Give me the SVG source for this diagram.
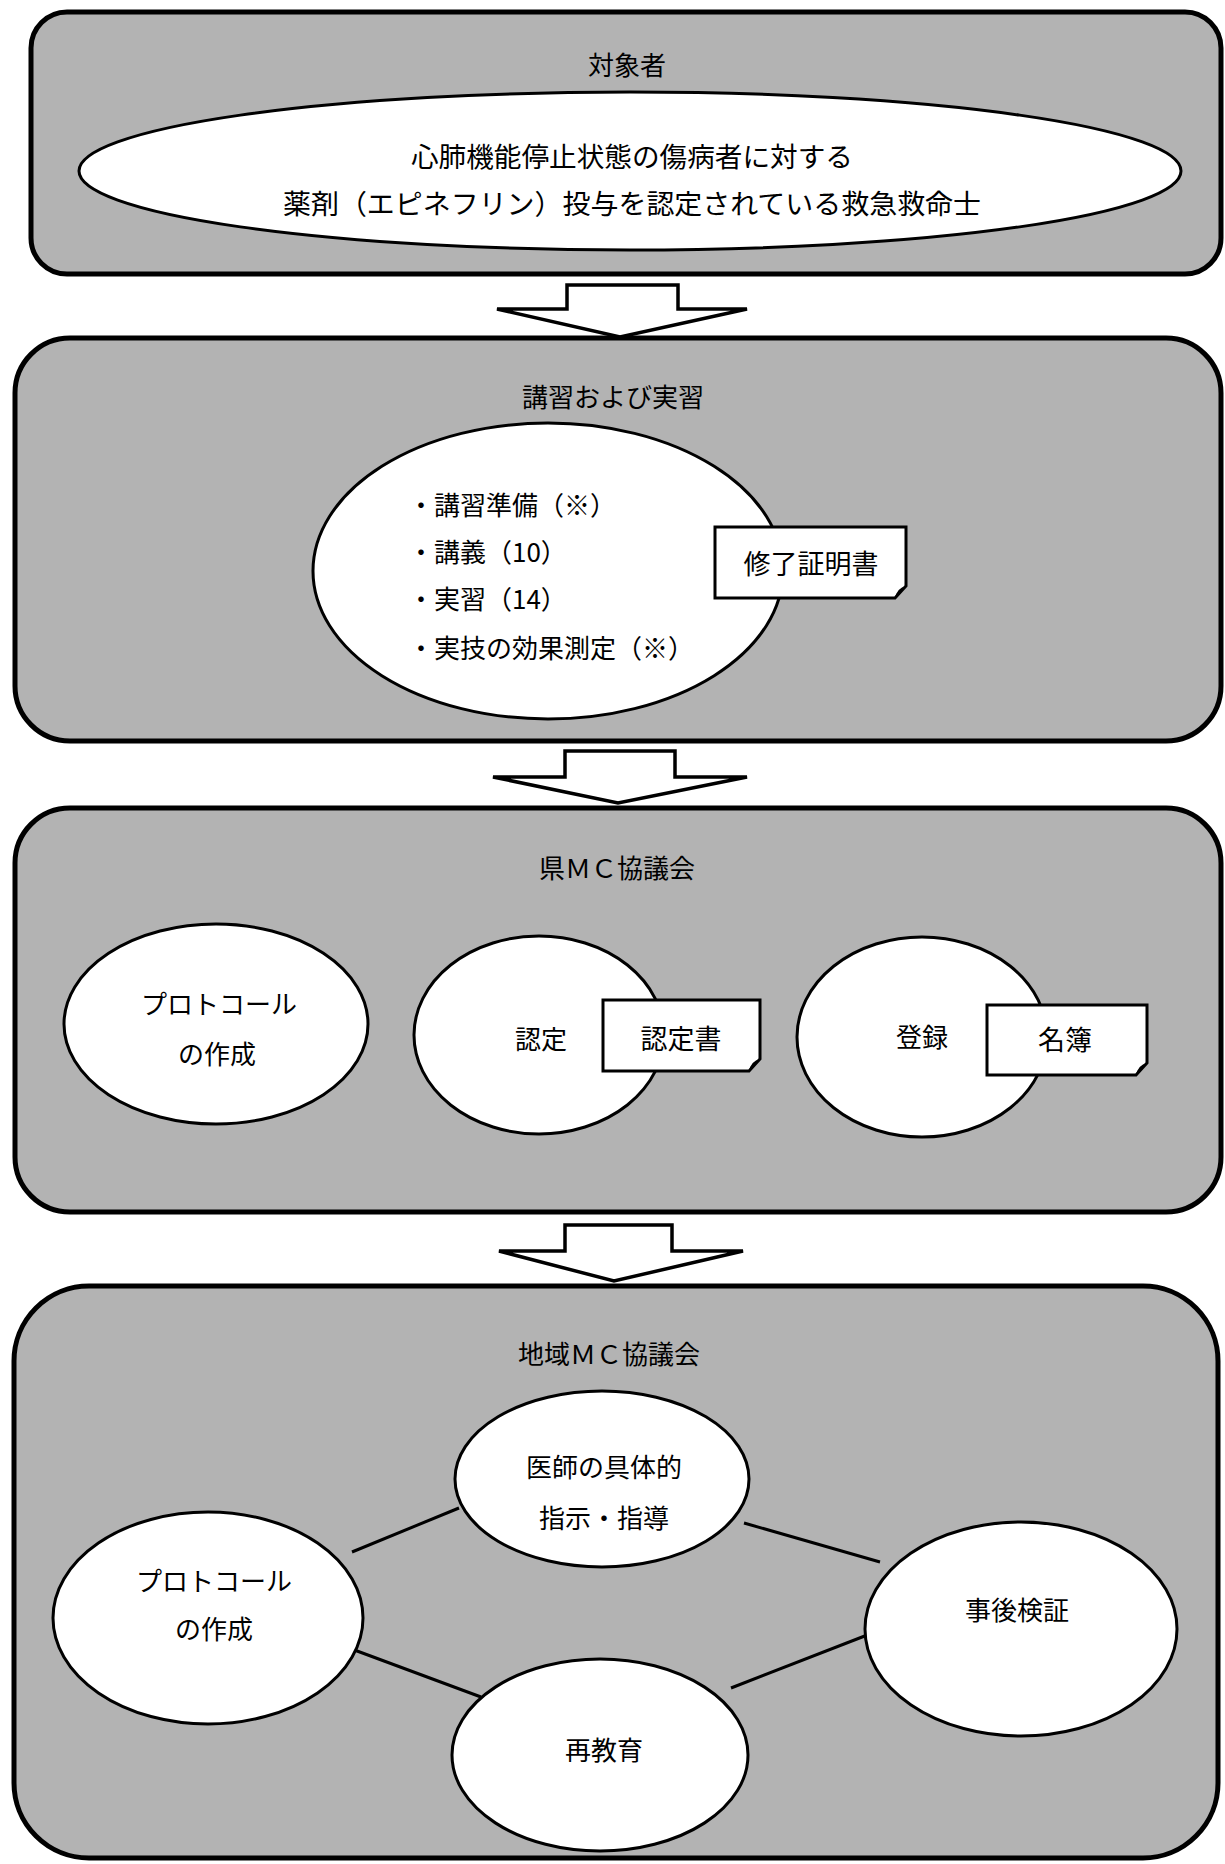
<svg xmlns="http://www.w3.org/2000/svg" width="1225" height="1864" viewBox="0 0 1225 1864">
<style>
.panel{fill:#b3b3b3;stroke:#000;stroke-width:5}
.oval{fill:#fff;stroke:#000;stroke-width:3}
.doc{fill:#fff;stroke:#000;stroke-width:3;stroke-linejoin:miter}
.fold{fill:#000}
.arrow{fill:#fff;stroke:#000;stroke-width:3.5;stroke-linejoin:miter}
.link{stroke:#000;stroke-width:3;fill:none}
text{font-family:"Noto Sans CJK JP","Noto Sans CJK SC",sans-serif;font-size:26px;fill:#000;dominant-baseline:central}
.c{text-anchor:middle}
</style>
<rect width="1225" height="1864" fill="#fff"/>

<g id="panel-taishosha">
<rect class="panel" x="31" y="12" width="1190" height="262" rx="36"/>
<text class="c" x="627" y="63">対象者</text>
</g>
<g id="node-taishosha">
<ellipse class="oval" cx="630" cy="171" rx="551" ry="79"/>
<text class="c" x="632" y="155" style="font-size:27.5px" textLength="442" lengthAdjust="spacingAndGlyphs">心肺機能停止状態の傷病者に対する</text>
<text class="c" x="632" y="202" style="font-size:27.5px" textLength="698" lengthAdjust="spacingAndGlyphs">薬剤（エピネフリン）投与を認定されている救急救命士</text>
</g>

<g id="panel-koshu">
<rect class="panel" x="15" y="338" width="1206" height="403" rx="55"/>
<text class="c" x="613" y="395">講習および実習</text>
</g>
<g id="node-koshu">
<ellipse class="oval" cx="548" cy="571" rx="235" ry="148"/>
<text x="408" y="503">・講習準備（※）</text>
<text x="408" y="550">・講義（10）</text>
<text x="408" y="597">・実習（14）</text>
<text x="408" y="646">・実技の効果測定（※）</text>
</g>
<g id="doc-shuryo">
<path class="doc" d="M715,527 H906 V586 L895,598 H715 Z"/>
<path class="fold" d="M906,586 Q897,588 895,598 Z"/>
<text class="c" x="811" y="562" style="font-size:27px">修了証明書</text>
</g>

<g id="panel-ken">
<rect class="panel" x="15" y="808" width="1206" height="404" rx="55"/>
<text class="c" x="617" y="866">県ＭＣ協議会</text>
</g>
<g id="node-ken-protocol">
<ellipse class="oval" cx="216" cy="1024" rx="152" ry="100"/>
<text class="c" x="219" y="1002">プロトコール</text>
<text class="c" x="217" y="1052">の作成</text>
</g>
<g id="node-nintei">
<ellipse class="oval" cx="539" cy="1035" rx="125" ry="99"/>
<text class="c" x="541" y="1037">認定</text>
</g>
<g id="doc-ninteisho">
<path class="doc" d="M603,1000 H760 V1059 L749,1071 H603 Z"/>
<path class="fold" d="M760,1059 Q751,1061 749,1071 Z"/>
<text class="c" x="681" y="1037" style="font-size:27px">認定書</text>
</g>
<g id="node-toroku">
<ellipse class="oval" cx="922" cy="1037" rx="125" ry="100"/>
<text class="c" x="922" y="1035">登録</text>
</g>
<g id="doc-meibo">
<path class="doc" d="M987,1005 H1147 V1063 L1136,1075 H987 Z"/>
<path class="fold" d="M1147,1063 Q1138,1065 1136,1075 Z"/>
<text class="c" x="1065" y="1038" style="font-size:27px">名簿</text>
</g>

<g id="panel-chiiki">
<rect class="panel" x="14" y="1286" width="1204" height="572" rx="75"/>
<text class="c" x="609" y="1352">地域ＭＣ協議会</text>
</g>

<g id="connectors">
<path class="arrow" d="M567,285 H678 V309 H747 L620,337 L497,309 H567 Z"/>
<path class="arrow" d="M565,751 H675 V777 H747 L618,803 L493,777 H565 Z"/>
<path class="arrow" d="M565,1225 H672 V1251 H743 L614,1281 L499,1251 H565 Z"/>
<line class="link" x1="352" y1="1552" x2="459" y2="1508"/>
<line class="link" x1="744" y1="1523" x2="880" y2="1562"/>
<line class="link" x1="349" y1="1648" x2="481" y2="1697"/>
<line class="link" x1="731" y1="1688" x2="875" y2="1632"/>
</g>

<g id="node-shiji">
<ellipse class="oval" cx="602" cy="1479" rx="147" ry="88"/>
<text class="c" x="604" y="1465">医師の具体的</text>
<text class="c" x="604" y="1516">指示・指導</text>
</g>
<g id="node-chiiki-protocol">
<ellipse class="oval" cx="208" cy="1618" rx="155" ry="106"/>
<text class="c" x="214" y="1579">プロトコール</text>
<text class="c" x="214" y="1627">の作成</text>
</g>
<g id="node-kensho">
<ellipse class="oval" cx="1021" cy="1629" rx="156" ry="107"/>
<text class="c" x="1017" y="1608">事後検証</text>
</g>
<g id="node-saikyoiku">
<ellipse class="oval" cx="600" cy="1755" rx="148" ry="96"/>
<text class="c" x="604" y="1748">再教育</text>
</g>
</svg>
